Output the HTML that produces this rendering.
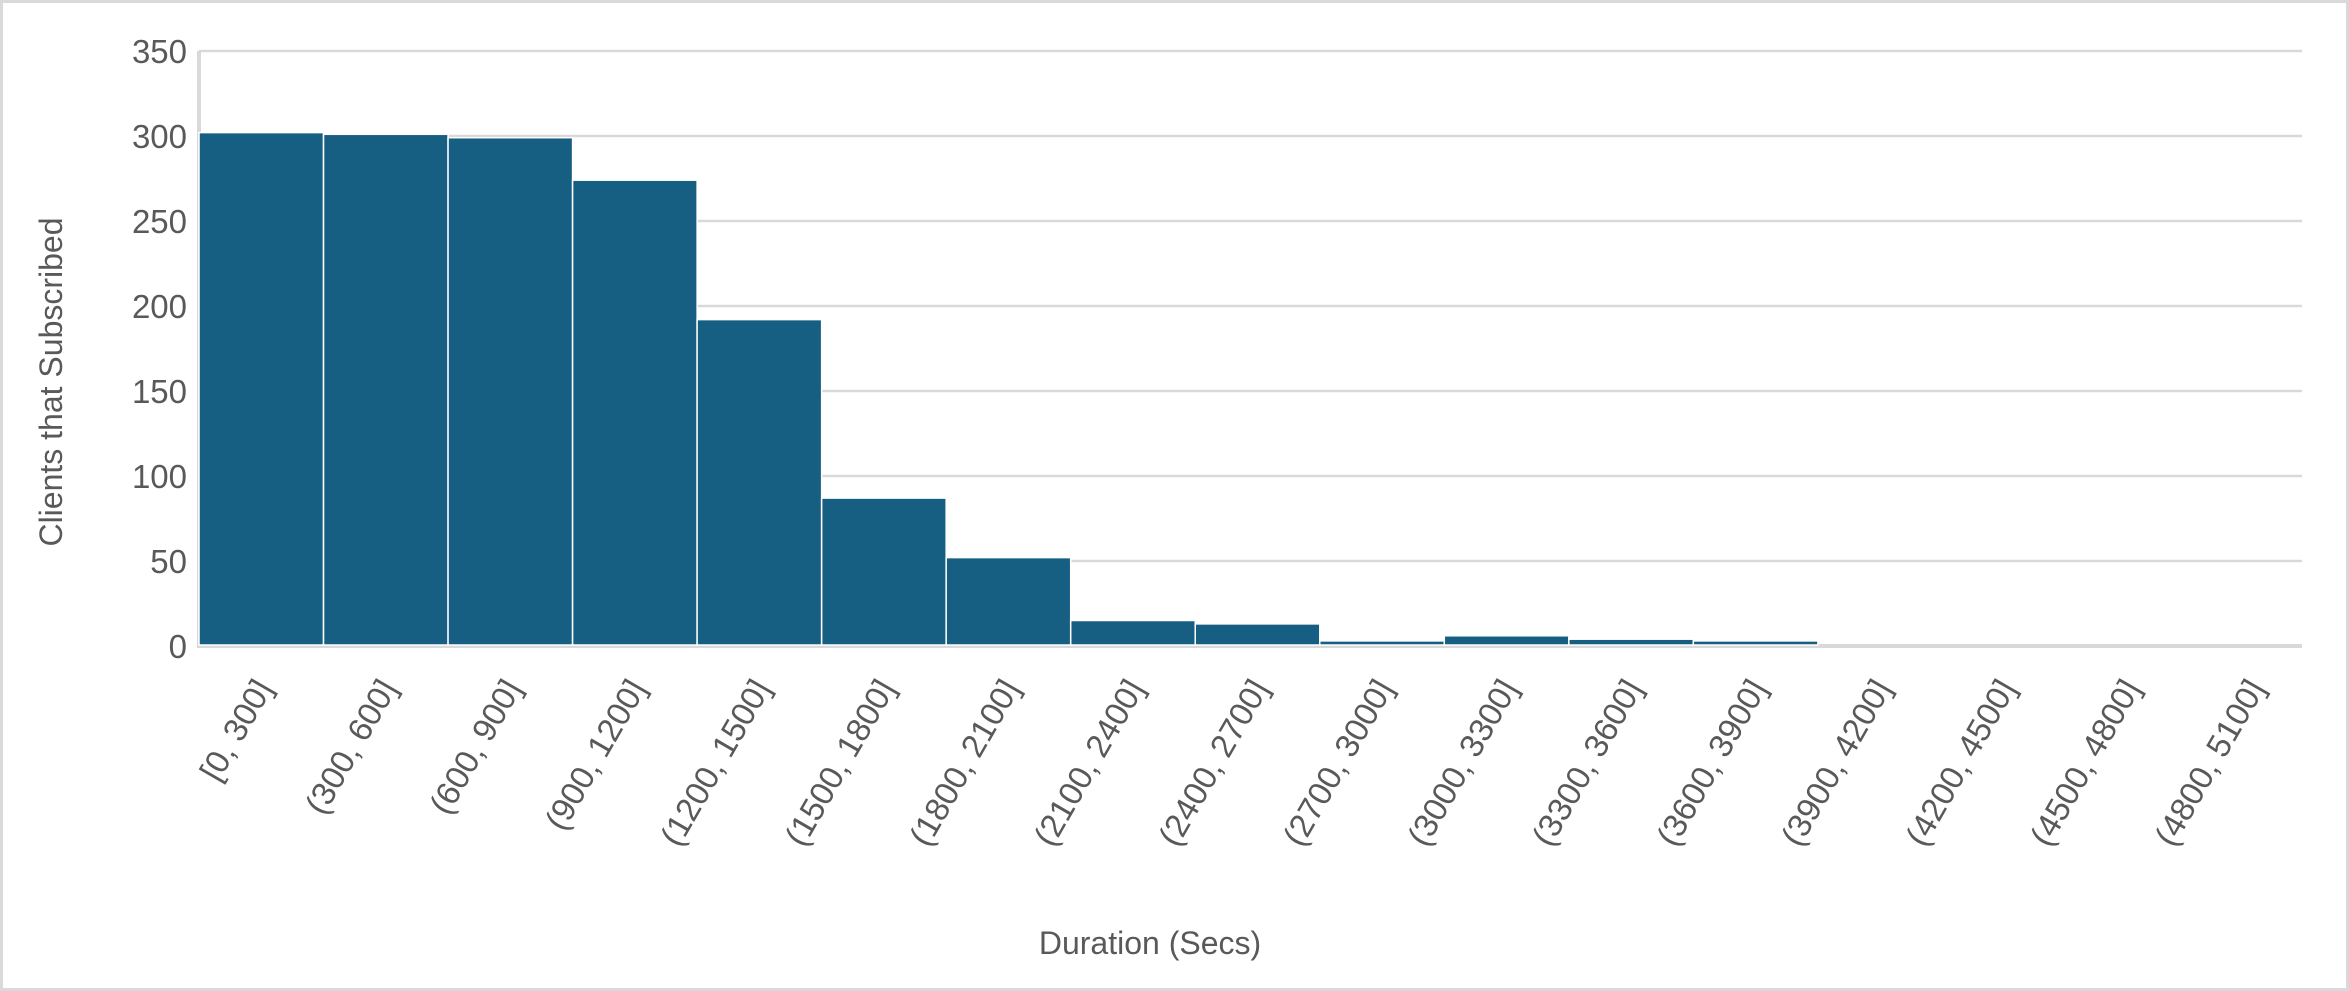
<!DOCTYPE html>
<html><head><meta charset="utf-8"><style>
html,body{margin:0;padding:0;background:#fff;}
svg{display:block;font-family:"Liberation Sans",sans-serif;}
</style></head><body>
<svg id="chart" width="2349" height="991" viewBox="0 0 2349 991" xmlns="http://www.w3.org/2000/svg">
<rect x="1.5" y="1.5" width="2346" height="988" fill="#fff" stroke="#d9d9d9" stroke-width="3"/>
<g id="grid"></g><g id="bars"></g><g id="yticks"></g><g id="xticks"></g>
<text transform="translate(62,382) rotate(-90)" text-anchor="middle" font-size="32" fill="#595959">Clients that Subscribed</text>
<text x="1150" y="954" text-anchor="middle" font-size="32" fill="#595959">Duration (Secs)</text>
</svg>
<script>
const categories=["[0, 300]","(300, 600]","(600, 900]","(900, 1200]","(1200, 1500]","(1500, 1800]","(1800, 2100]","(2100, 2400]","(2400, 2700]","(2700, 3000]","(3000, 3300]","(3300, 3600]","(3600, 3900]","(3900, 4200]","(4200, 4500]","(4500, 4800]","(4800, 5100]"];
const values=[302,301,299,274,192,87,52,15,13,3,6,4,3,0,0,0,0];
const yTicks=[0,50,100,150,200,250,300,350];
const NS="http://www.w3.org/2000/svg";
const L=199,R=2316,GR=2302,T=51,B=646,YMAX=350;
const bw=(R-L)/categories.length;
const x=i=>L+i*bw;
const y=v=>B-(v/YMAX)*(B-T);
function mk(tag,attrs,parent){const e=document.createElementNS(NS,tag);for(const k in attrs)e.setAttribute(k,attrs[k]);document.getElementById(parent).appendChild(e);return e;}
yTicks.forEach(t=>{
  const g=mk('line',{x1:L,x2:GR,y1:y(t),y2:y(t),stroke:'#d9d9d9','stroke-width':t===0?4:2.5},'grid');
  
  
  const tx=mk('text',{x:L-12,y:y(t)+12,'text-anchor':'end','font-size':33,fill:'#595959'},'yticks');
  tx.textContent=t;
  
  
});
mk('line',{x1:L,x2:L,y1:T,y2:B+2,stroke:'#d9d9d9','stroke-width':4},'grid');
values.forEach((v,i)=>{
  if(v>0){
    const r=mk('rect',{x:x(i),y:y(v),width:bw,height:B-1-y(v),fill:'#175f82',stroke:'#fff','stroke-width':1.5},'bars');
    
    
  }
  const cx=x(i)+bw/2+12;
  const t=mk('text',{x:cx,y:688,transform:`rotate(-60 ${cx} 688)`,'text-anchor':'end','font-size':33,fill:'#595959'},'xticks');
  t.textContent=categories[i];
  
  
});
</script>
</body></html>
